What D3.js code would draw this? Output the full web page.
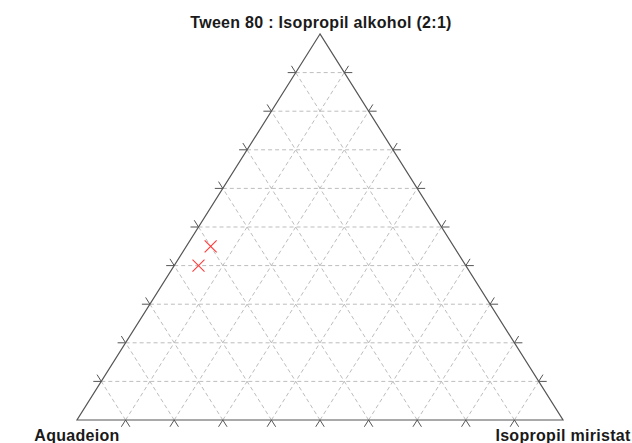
<!DOCTYPE html>
<html>
<head>
<meta charset="utf-8">
<script src="https://cdn.jsdelivr.net/npm/d3@7"></script>
<style>
html,body{margin:0;padding:0;background:#fff;}
svg{display:block;}
text{font-family:"Liberation Sans",Arial,sans-serif;font-weight:bold;font-size:16px;letter-spacing:0.3px;fill:#1a1a1a;}
</style>
</head>
<body>
<script>
// Vertex labels
const topLabel = "Tween 80 : Isopropil alkohol (2:1)";
const leftLabel = "Aquadeion";
const rightLabel = "Isopropil miristat";
// Grid levels (fractions)
const gridLevels = [0.1,0.2,0.3,0.4,0.5,0.6,0.7,0.8,0.9];
// Data points (fractions)
const tweenFrac = [0.45, 0.40];
const ipmFrac   = [0.05, 0.05];
const aquaFrac  = [0.50, 0.55];

const W = 632, H = 443;
const svg = d3.select("body").append("svg").attr("width", W).attr("height", H);

const xs = d3.scaleLinear().domain([0,1]).range([77, 563]);
const ys = d3.scaleLinear().domain([0,1]).range([420, 34]);
// ternary -> pixel  (t: top, a: left, i: right)
function proj(t, a, i){
  const s = t + a + i;
  t/=s; i/=s;
  return [xs(i + t/2), ys(t)];
}

// grid lines
const lines = [];
gridLevels.forEach(v=>{
  lines.push([proj(v,1-v,0), proj(v,0,1-v)]);      // Tween const
  lines.push([proj(0,1-v,v), proj(1-v,0,v)]);      // IPM const
  lines.push([proj(0,v,1-v), proj(1-v,v,0)]);      // Aqua const
});
const g = svg.append("g");
g.selectAll("line.grid").data(lines).join("line")
  .attr("class","grid")
  .attr("x1",d=>d[0][0]).attr("y1",d=>d[0][1])
  .attr("x2",d=>d[1][0]).attr("y2",d=>d[1][1])
  .attr("stroke","#bdbdbd").attr("stroke-width",1)
  .attr("stroke-dasharray","4,3");

// tick extensions
const tickLen = 8;
const ticks = [];
lines.forEach(([p,q])=>{
  const dx=q[0]-p[0], dy=q[1]-p[1], L=Math.hypot(dx,dy);
  const ux=dx/L, uy=dy/L;
  ticks.push([p,[p[0]-ux*tickLen,p[1]-uy*tickLen]]);
  ticks.push([q,[q[0]+ux*tickLen,q[1]+uy*tickLen]]);
});
g.selectAll("line.tick").data(ticks).join("line")
  .attr("class","tick")
  .attr("x1",d=>d[0][0]).attr("y1",d=>d[0][1])
  .attr("x2",d=>d[1][0]).attr("y2",d=>d[1][1])
  .attr("stroke","#555").attr("stroke-width",1);

// triangle outline
const verts = [proj(1,0,0), proj(0,1,0), proj(0,0,1)];
g.append("path")
  .attr("d", d3.line()(verts)+"Z")
  .attr("fill","none").attr("stroke","#555").attr("stroke-width",1.2);

// points
const pts = tweenFrac.map((t,k)=>proj(t, aquaFrac[k], ipmFrac[k]));
const r = 6;
const mk = g.selectAll("g.pt").data(pts).join("g").attr("class","pt")
  .attr("transform",d=>`translate(${d[0]},${d[1]})`);
mk.append("line").attr("x1",-r).attr("y1",-r).attr("x2",r).attr("y2",r)
  .attr("stroke","#ff3b3b").attr("stroke-width",1.1);
mk.append("line").attr("x1",-r).attr("y1",r).attr("x2",r).attr("y2",-r)
  .attr("stroke","#ff3b3b").attr("stroke-width",1.1);

// labels
svg.append("text").attr("x",verts[0][0]+1).attr("y",28).attr("text-anchor","middle").text(topLabel);
svg.append("text").attr("x",verts[1][0]).attr("y",441).attr("text-anchor","middle").text(leftLabel);
svg.append("text").attr("x",verts[2][0]).attr("y",441).attr("text-anchor","middle").text(rightLabel);
</script>
</body>
</html>
